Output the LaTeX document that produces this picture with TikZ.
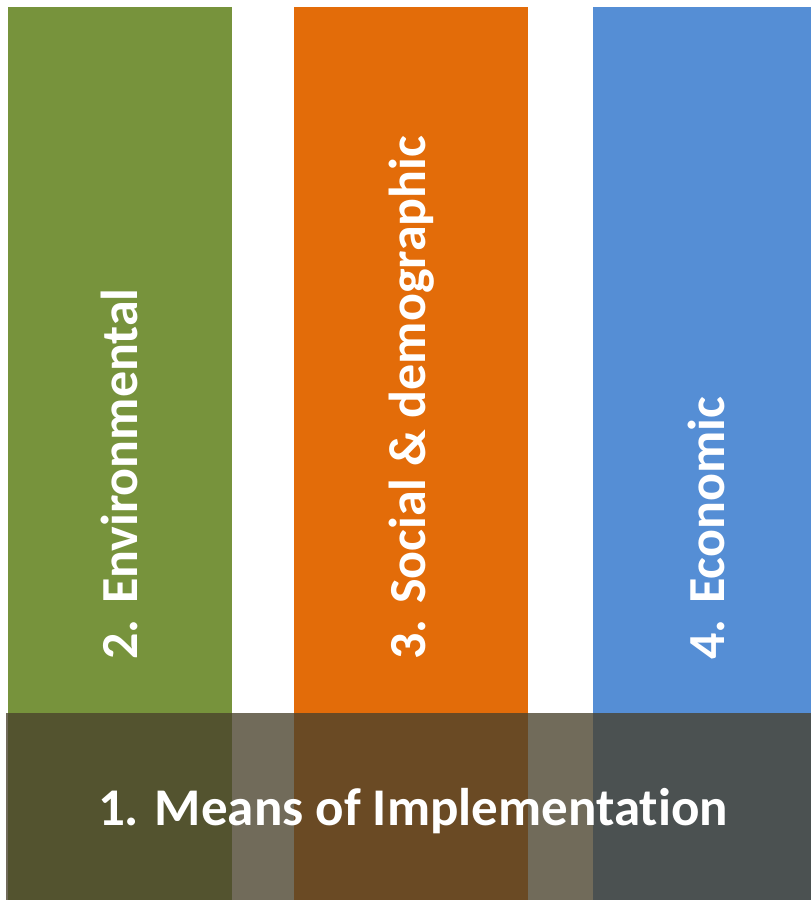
\documentclass[tikz,border=0pt]{standalone}
\usepackage{fontspec}
\setmainfont[Ligatures=NoCommon]{Carlito}
\definecolor{cgreen}{RGB}{119,147,60}
\definecolor{corange}{RGB}{227,108,9}
\definecolor{cblue}{RGB}{85,142,213}
\definecolor{cover}{RGB}{73,65,44}
\begin{document}
\begin{tikzpicture}[x=1pt,y=-1pt,
  vlabel/.style={rotate=90, anchor=west, inner sep=0pt, text=white, font=\fontsize{52}{60}\selectfont\bfseries},
  hlabel/.style={anchor=base, inner sep=0pt, text=white, font=\fontsize{53}{60}\selectfont\bfseries}]
\useasboundingbox (0,0) rectangle (811,900);
\fill[cgreen] (8,7) rectangle (232,900);
\fill[corange] (294,7) rectangle (528,900);
\fill[cblue] (593,7) rectangle (811,900);
\coordinate (g) at (119,660);
\coordinate (o) at (412,660);
\coordinate (b) at (706,660);
\node[vlabel] (envl) at (g) {2. Environmental};
\node[vlabel] (socl) at (o) {3. Social \& demographic};
\node[vlabel] (ecol) at (b) {4. Economic};
\fill[cover, fill opacity=0.78] (6,713) rectangle (811,900);
\node[hlabel] (mil) at (413,825) {1. Means of Implementation};
\end{tikzpicture}
\end{document}
